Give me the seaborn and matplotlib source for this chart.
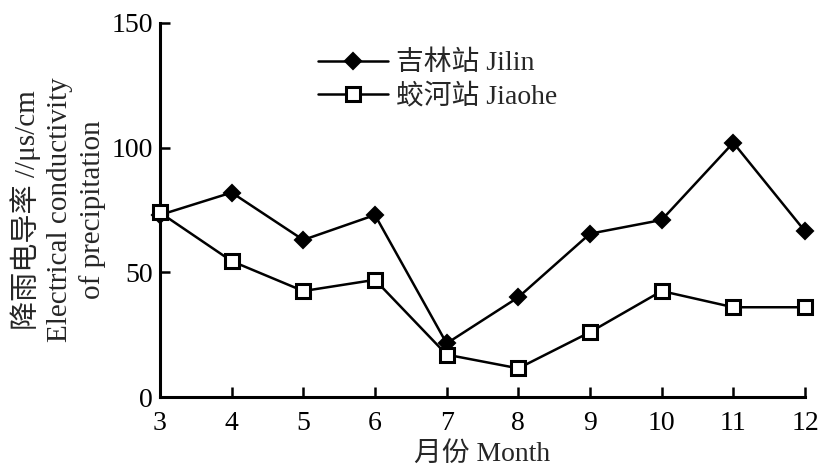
import matplotlib
matplotlib.use("Agg")
import matplotlib.pyplot as plt
import seaborn as sns
import pandas as pd

# Monthly precipitation conductivity (μs/cm) at two stations
months = [3, 4, 5, 6, 7, 8, 9, 10, 11, 12]
jilin = [73, 82, 63, 73, 21.5, 40, 65.5, 71, 102, 66.5]
jiaohe = [74, 54.5, 42.5, 47, 17, 11.5, 26, 42.5, 36, 36]
series_names = ["吉林站 Jilin", "蛟河站 Jiaohe"]
y_ticks = [0, 50, 100, 150]

df = pd.DataFrame({
    "month": months * 2,
    "value": jilin + jiaohe,
    "station": [series_names[0]] * len(months) + [series_names[1]] * len(months),
})

sns.set_theme(style="ticks")
fonts = ["Liberation Serif", "Noto Sans CJK SC", "DejaVu Sans"]
plt.rcParams["font.family"] = fonts

fig = plt.figure(figsize=(8.22, 4.74), dpi=100)
ax = fig.add_axes([0.1946, 0.1624, 0.7847, 0.7891])

styles = {
    series_names[0]: dict(marker="D", markersize=8.5, markerfacecolor="black",
                          markeredgecolor="black", markeredgewidth=1.5),
    series_names[1]: dict(marker="s", markersize=10, markerfacecolor="white",
                          markeredgecolor="black", markeredgewidth=2.2),
}
for name in series_names:
    sub = df[df["station"] == name]
    sns.lineplot(data=sub, x="month", y="value", ax=ax, color="black",
                 linewidth=1.8, label=name, clip_on=False, zorder=3,
                 **styles[name])

ax.set_xlim(3, 12)
ax.set_ylim(0, 150)
ax.set_xticks(months)
ax.set_yticks(y_ticks)
ax.tick_params(direction="in", length=7, width=1.8, labelsize=20,
               colors="black", pad=5)
ax.tick_params(axis="x", pad=10)
for side in ("top", "right"):
    ax.spines[side].set_visible(False)
for side in ("left", "bottom"):
    ax.spines[side].set_linewidth(2.2)
    ax.spines[side].set_color("black")

ax.set_xlabel("月份 Month", fontsize=20, labelpad=4)
ax.set_ylabel("降雨电导率 //μs/cm\nElectrical conductivity\nof precipitation",
              fontsize=21, linespacing=1.3, labelpad=4)

leg = ax.legend(loc="upper left", bbox_to_anchor=(0.228, 0.955), frameon=False,
                fontsize=20, handlelength=2.5, handletextpad=0.3,
                labelspacing=0.25, borderaxespad=0)

fig.savefig("out.png", dpi=100, facecolor="white")
